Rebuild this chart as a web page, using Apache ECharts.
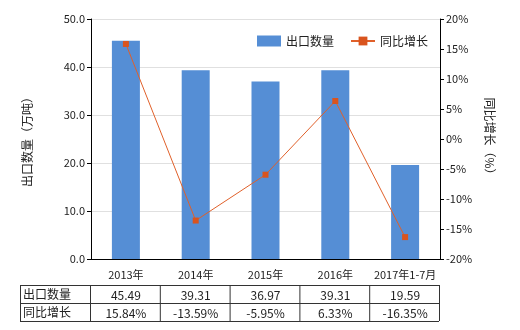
<!DOCTYPE html>
<html><head><meta charset="utf-8">
<script src="https://cdn.jsdelivr.net/npm/echarts@6/dist/echarts.min.js"></script>
<style>html,body{margin:0;padding:0;background:#fff}#c{width:520px;height:330px}</style>
</head><body><div id="c"></div>
<script>
const categories = ['2013年','2014年','2015年','2016年','2017年1-7月'];
const exportQty = [45.49, 39.31, 36.97, 39.31, 19.59];
const yoyGrowth = [15.84, -13.59, -5.95, 6.33, -16.35];
const qtyLabels = ['45.49','39.31','36.97','39.31','19.59'];
const yoyLabels = ['15.84%','-13.59%','-5.95%','6.33%','-16.35%'];
const rowNames = ['出口数量','同比增长'];

const chart = echarts.init(document.getElementById('c'));
const font = 'Microsoft YaHei, "Noto Sans CJK SC", sans-serif';
const gl = 91, gr = 440, gt = 19, gb = 259;

function tableGraphics() {
  const els = [];
  const colW = (gr - gl) / categories.length;
  const x0 = 20, top = 285, rowH = 18;
  const rows = [qtyLabels, yoyLabels];
  const lineStyle = {stroke:'#333', lineWidth:1};
  // horizontal lines
  for (let r = 0; r <= 2; r++) {
    els.push({type:'line', shape:{x1:x0, y1:top + r*rowH + 0.5, x2:gr - 1, y2:top + r*rowH + 0.5}, style:lineStyle});
  }
  // vertical lines
  const xs = [x0, gl - 1];
  for (let i = 1; i <= categories.length; i++) xs.push(gl + i*colW - 1);
  xs.forEach(x => els.push({type:'line', shape:{x1:x+0.5, y1:top, x2:x+0.5, y2:top + 2*rowH}, style:lineStyle}));
  rows.forEach((vals, r) => {
    els.push({type:'text', x: x0 + 3, y: top + r*rowH + rowH/2, style:{text: rowNames[r], fill:'#222', font:'12px ' + font, verticalAlign:'middle'}});
    vals.forEach((v, i) => {
      els.push({type:'text', x: gl + (i+0.5)*colW, y: top + r*rowH + rowH/2 + 1, style:{text: v, fill:'#222', font:'12px ' + font, align:'center', verticalAlign:'middle'}});
    });
  });
  return els;
}

chart.setOption({
  animation: false,
  textStyle: {fontFamily: font},
  grid: {left: gl, right: 520 - gr, top: gt, bottom: 330 - gb, containLabel: false},
  legend: {
    top: 30, left: 252, itemGap: 16, itemWidth: 24, itemHeight: 11,
    textStyle: {fontSize: 12, color: '#222', fontFamily: font},
    data: [{name:'出口数量', icon:'rect'}, {name:'同比增长'}]
  },
  xAxis: {
    type: 'category', data: categories,
    axisLine: {lineStyle: {color: '#000'}},
    axisTick: {alignWithLabel: true, length: 4, lineStyle:{color:'#000'}},
    axisLabel: {color: '#222', fontSize: 11, margin: 10, interval: 0}
  },
  yAxis: [
    {type: 'value', min: 0, max: 50, interval: 10, name: '出口数量（万吨）',
     nameLocation: 'middle', nameGap: 58, nameRotate: 90,
     nameTextStyle: {fontSize: 12, color: '#222'},
     axisLine: {show: true, lineStyle: {color: '#000'}},
     axisTick: {show: true, length: 4, lineStyle:{color:'#000'}},
     axisLabel: {color: '#222', fontSize: 11, formatter: v => v.toFixed(1), margin: 6},
     splitLine: {lineStyle: {color: '#e0e0e0'}}},
    {type: 'value', min: -20, max: 20, interval: 5, name: '同比增长（%）',
     nameLocation: 'middle', nameGap: 44, nameRotate: -90,
     nameTextStyle: {fontSize: 12, color: '#222'},
     axisLine: {show: true, lineStyle: {color: '#000'}},
     axisTick: {show: true, length: 4, lineStyle:{color:'#000'}},
     axisLabel: {color: '#222', fontSize: 11, formatter: v => v + '%', margin: 6},
     splitLine: {show: false}}
  ],
  series: [
    {name: '出口数量', type: 'bar', data: exportQty, barWidth: 28,
     itemStyle: {color: '#558ed5'}},
    {name: '同比增长', type: 'line', yAxisIndex: 1, data: yoyGrowth,
     symbol: 'rect', symbolSize: 6,
     lineStyle: {color: '#e0602a', width: 1},
     itemStyle: {color: '#d9541e'}}
  ],
  graphic: tableGraphics()
});
</script></body></html>
